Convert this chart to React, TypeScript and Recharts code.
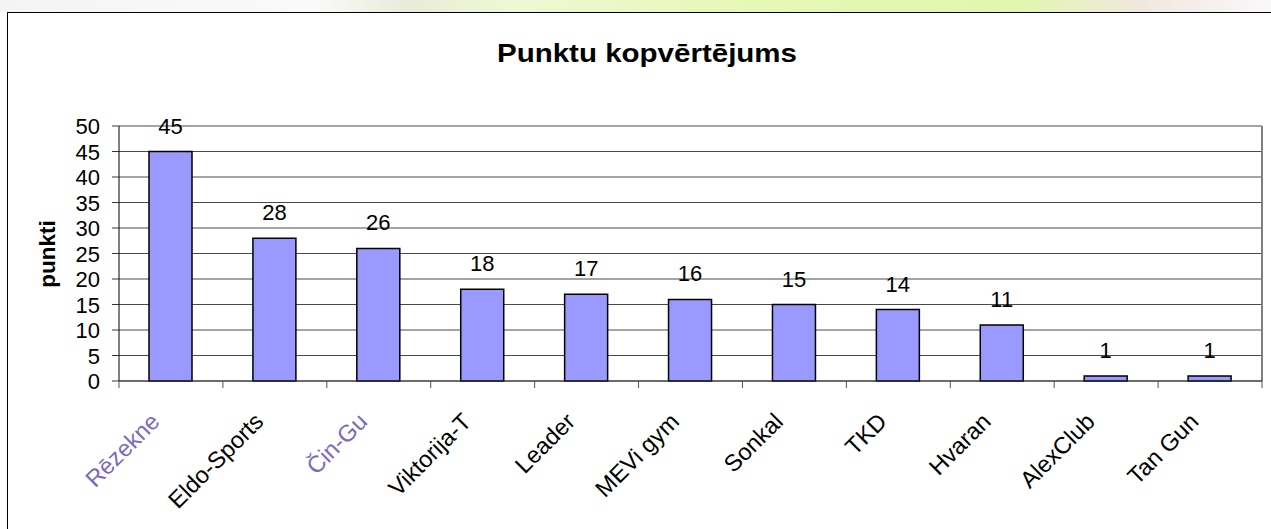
import React from "react";
import { BarChart, Bar, XAxis, YAxis, CartesianGrid, LabelList } from "recharts";

const clubs = [
  "Rēzekne",
  "Eldo-Sports",
  "Čin-Gu",
  "Viktorija-T",
  "Leader",
  "MEVi gym",
  "Sonkal",
  "TKD",
  "Hvaran",
  "AlexClub",
  "Tan Gun",
];
const points = [45, 28, 26, 18, 17, 16, 15, 14, 11, 1, 1];
const yTicks = [0, 5, 10, 15, 20, 25, 30, 35, 40, 45, 50];
// two labels in the picture come out in a purple-ish smeared colour
const tintedClubs = ["Rēzekne", "Čin-Gu"];

const data = clubs.map((name, i) => ({ name, value: points[i] }));

const FONT = "'Liberation Sans', Arial, sans-serif";
const W = 1271;
const H = 529;
const MARGIN = { top: 126, right: 9, bottom: 48, left: 59 };
const Y_AXIS_W = 60;
const PLOT_W = W - MARGIN.left - MARGIN.right - Y_AXIS_W;
const HALF_BAND = PLOT_W / clubs.length / 2;
const TICK = 7;

// Excel puts the category tick marks between the bars, so draw them here
const XTick = (props: any) => {
  const { x, y, payload, index } = props;
  const tinted = tintedClubs.includes(payload.value);
  const axisY = y - TICK;
  const last = index === clubs.length - 1;
  return (
    <g>
      <line x1={x - HALF_BAND} y1={axisY} x2={x - HALF_BAND} y2={axisY + TICK} stroke="#555" />
      {last && (
        <line x1={x + HALF_BAND} y1={axisY} x2={x + HALF_BAND} y2={axisY + TICK} stroke="#555" />
      )}
      <g transform={`translate(${x - 10},${y + 35})`}>
        <text
          textAnchor="end"
          transform="rotate(-45)"
          fontSize={23.5}
          fontFamily={FONT}
          fill={tinted ? "#7a68c4" : "#000"}
        >
          {payload.value}
        </text>
      </g>
    </g>
  );
};

const YTick = (props: any) => {
  const { x, y, payload } = props;
  return (
    <text
      x={x}
      y={y}
      dy={8}
      textAnchor="end"
      fontSize={22}
      fontFamily={FONT}
      fill="#000"
    >
      {payload.value}
    </text>
  );
};

const ValueLabel = (props: any) => {
  const { x, y, width, value } = props;
  return (
    <text
      x={x + width / 2}
      y={y - 18}
      textAnchor="middle"
      fontSize={22}
      fontFamily={FONT}
      fill="#000"
    >
      {value}
    </text>
  );
};

export default function App() {
  return (
    <div
      style={{
        position: "absolute",
        left: 0,
        top: 0,
        width: W,
        height: H,
        overflow: "hidden",
        background: "#fff",
      }}
    >
      {/* strip of the page background above the chart */}
      <div
        style={{
          position: "absolute",
          left: 0,
          top: 0,
          width: W,
          height: 12,
          background:
            "linear-gradient(90deg, #f4f4f4 0%, #fafafa 25%, #e8ecd8 32%, #eef8d4 40%, #e6f8b4 60%, #e2f6ae 80%, #f0e8e0 90%, #fbf8fb 100%)",
        }}
      />
      {/* chart frame */}
      <div
        style={{
          position: "absolute",
          left: 7,
          top: 12,
          width: 1300,
          height: 600,
          border: "1.5px solid #000",
          background: "#fff",
        }}
      />
      <div style={{ position: "absolute", left: 0, top: 0 }}>
        <BarChart width={W} height={H} data={data} margin={MARGIN}>
          <text
            x={647}
            y={62}
            textAnchor="middle"
            fontSize={25}
            fontWeight="bold"
            fontFamily={FONT}
            textLength={300}
            lengthAdjust="spacingAndGlyphs"
            fill="#000"
          >
            Punktu kopvērtējums
          </text>
          <text
            x={55}
            y={254}
            textAnchor="middle"
            fontSize={22.5}
            fontWeight="bold"
            fontFamily={FONT}
            transform="rotate(-90 55 254)"
            fill="#000"
          >
            punkti
          </text>
          <CartesianGrid horizontal={true} vertical={false} stroke="#4a4a4a" strokeWidth={1} />
          <XAxis
            dataKey="name"
            interval={0}
            height={100}
            tickSize={TICK}
            tickMargin={0}
            tickLine={false}
            tick={<XTick />}
            stroke="#333"
          />
          <YAxis
            domain={[0, 50]}
            ticks={yTicks}
            width={Y_AXIS_W}
            tickSize={TICK}
            tickMargin={12}
            tick={<YTick />}
            stroke="#000"
            tickLine={{ stroke: "#333" }}
          />
          <line x1={1262} y1={126} x2={1262} y2={381} stroke="#808080" strokeWidth={2} />
          <Bar
            dataKey="value"
            fill="#9999ff"
            stroke="#000"
            strokeWidth={1.5}
            barSize={43}
            isAnimationActive={false}
          >
            <LabelList dataKey="value" content={<ValueLabel />} />
          </Bar>
        </BarChart>
      </div>
    </div>
  );
}
